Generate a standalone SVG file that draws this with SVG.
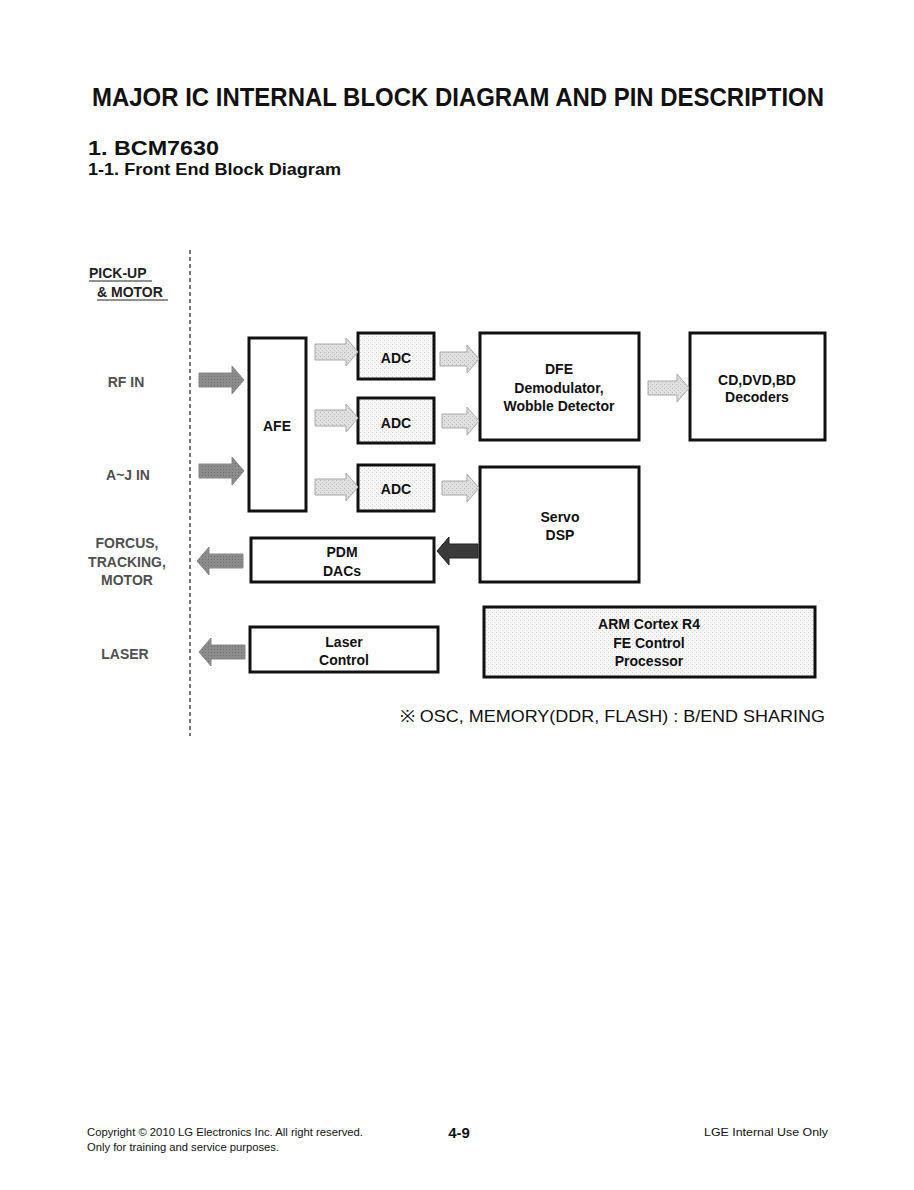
<svg xmlns="http://www.w3.org/2000/svg" width="914" height="1190" viewBox="0 0 914 1190">
<defs>
<pattern id="dots" width="4" height="4" patternUnits="userSpaceOnUse">
<rect width="4" height="4" fill="#f7f7f7"/>
<rect x="0" y="0" width="1" height="1" fill="#d0d0d0"/>
<rect x="2" y="2" width="1" height="1" fill="#dadada"/>
</pattern>
<pattern id="dotsA" width="4" height="4" patternUnits="userSpaceOnUse">
<rect width="4" height="4" fill="#e0e0e0"/>
<rect x="0" y="0" width="1" height="1" fill="#b8b8b8"/>
<rect x="2" y="2" width="1" height="1" fill="#c0c0c0"/>
</pattern>
<pattern id="dotsD" width="3" height="3" patternUnits="userSpaceOnUse">
<rect width="3" height="3" fill="#8c8c8c"/>
<rect x="1" y="1" width="1" height="1" fill="#707070"/>
</pattern>
</defs>
<style>
.t{font-family:"Liberation Sans",Arial,sans-serif;fill:#111}
.b{font-weight:bold}
.blk{fill:#fff;stroke:#111;stroke-width:3}
.lbl{font-family:"Liberation Sans",Arial,sans-serif;font-weight:bold;font-size:14px;fill:#505050;text-anchor:middle}
.bt{font-family:"Liberation Sans",Arial,sans-serif;font-weight:bold;font-size:14px;fill:#111;text-anchor:middle}
.aL{fill:url(#dotsA);stroke:#a8a8a8;stroke-width:1}
.aM{fill:url(#dotsD);stroke:#888;stroke-width:1}
.aD{fill:#3a3a3a;stroke:#222;stroke-width:1}
</style>
<rect width="914" height="1190" fill="#fff"/>

<g id="header">
<text class="t b" x="92" y="106" font-size="26" textLength="732" lengthAdjust="spacingAndGlyphs" fill="#1a1a1a">MAJOR IC INTERNAL BLOCK DIAGRAM AND PIN DESCRIPTION</text>
<text class="t b" x="88" y="155" font-size="20" textLength="131" lengthAdjust="spacingAndGlyphs">1. BCM7630</text>
<text class="t b" x="88" y="175" font-size="17" textLength="253" lengthAdjust="spacingAndGlyphs">1-1. Front End Block Diagram</text>
</g>

<line x1="190" y1="250" x2="190" y2="736" stroke="#222" stroke-width="1.2" stroke-dasharray="4,3"/>

<g id="labels">
<text class="lbl" x="89" y="278" style="text-anchor:start;fill:#222">PICK-UP</text>
<line x1="89" y1="281" x2="152" y2="281" stroke="#222" stroke-width="1.2"/>
<text class="lbl" x="97" y="297" style="text-anchor:start;fill:#222">&amp; MOTOR</text>
<line x1="97" y1="300" x2="168" y2="300" stroke="#222" stroke-width="1.2"/>
<text class="lbl" x="126" y="387">RF IN</text>
<text class="lbl" x="128" y="480">A~J IN</text>
<text class="lbl" x="127" y="548">FORCUS,</text>
<text class="lbl" x="127" y="567">TRACKING,</text>
<text class="lbl" x="127" y="585">MOTOR</text>
<text class="lbl" x="125" y="659">LASER</text>
</g>

<g id="afe"><rect class="blk" x="249" y="338" width="57" height="173"/><text class="bt" x="277" y="431">AFE</text></g>
<g id="adc1"><rect class="blk" x="358" y="333" width="76" height="46" style="fill:url(#dots)"/><text class="bt" x="396" y="363">ADC</text></g>
<g id="adc2"><rect class="blk" x="358" y="398" width="76" height="45" style="fill:url(#dots)"/><text class="bt" x="396" y="428">ADC</text></g>
<g id="adc3"><rect class="blk" x="358" y="465" width="76" height="46" style="fill:url(#dots)"/><text class="bt" x="396" y="494">ADC</text></g>
<g id="dfe"><rect class="blk" x="480" y="333" width="159" height="107"/>
<text class="bt" x="559" y="374">DFE</text><text class="bt" x="559" y="393">Demodulator,</text><text class="bt" x="559" y="411">Wobble Detector</text></g>
<g id="decoders"><rect class="blk" x="690" y="333" width="135" height="107"/>
<text class="bt" x="757" y="385">CD,DVD,BD</text><text class="bt" x="757" y="402">Decoders</text></g>
<g id="servo"><rect class="blk" x="480" y="467" width="159" height="115"/>
<text class="bt" x="560" y="522">Servo</text><text class="bt" x="560" y="540">DSP</text></g>
<g id="pdm"><rect class="blk" x="251" y="538" width="183" height="44"/>
<text class="bt" x="342" y="557">PDM</text><text class="bt" x="342" y="576">DACs</text></g>
<g id="laser"><rect class="blk" x="250" y="627" width="188" height="45"/>
<text class="bt" x="344" y="647">Laser</text><text class="bt" x="344" y="665">Control</text></g>
<g id="arm"><rect class="blk" x="484" y="607" width="331" height="70" style="fill:url(#dots)"/>
<text class="bt" x="649" y="629">ARM Cortex R4</text><text class="bt" x="649" y="648">FE Control</text><text class="bt" x="649" y="666">Processor</text></g>

<g id="connectors">
<path class="aM" d="M199,373 H232 V366 L244,380 L232,394 V387 H199 Z"/>
<path class="aM" d="M199,464 H232 V457 L244,471 L232,485 V478 H199 Z"/>
<path class="aL" d="M315,344 H346 V338 L358,352 L346,366 V360 H315 Z"/>
<path class="aL" d="M315,410 H346 V404 L358,418 L346,432 V426 H315 Z"/>
<path class="aL" d="M315,479 H346 V473 L358,487 L346,501 V495 H315 Z"/>
<path class="aL" d="M440,352 H467 V345 L479,359 L467,373 V366 H440 Z"/>
<path class="aL" d="M442,414 H467 V407 L479,421 L467,435 V428 H442 Z"/>
<path class="aL" d="M442,481 H467 V474 L479,488 L467,502 V495 H442 Z"/>
<path class="aL" d="M648,381 H677 V374 L689,388 L677,402 V395 H648 Z"/>
<path class="aD" d="M478,544 H449 V537 L437,551 L449,565 V558 H478 Z"/>
<path class="aM" d="M243,554 H209 V547 L197,561 L209,575 V568 H243 Z"/>
<path class="aM" d="M245,645 H211 V638 L199,652 L211,666 V659 H245 Z"/>
</g>

<text class="t" x="400" y="722" font-size="17" textLength="425" lengthAdjust="spacingAndGlyphs">※ OSC, MEMORY(DDR, FLASH) : B/END SHARING</text>

<g id="footer">
<text class="t" x="87" y="1136" font-size="11.5" textLength="276" lengthAdjust="spacingAndGlyphs">Copyright © 2010 LG Electronics Inc. All right reserved.</text>
<text class="t" x="87" y="1151" font-size="11.5" textLength="192" lengthAdjust="spacingAndGlyphs">Only for training and service purposes.</text>
<text class="t b" x="459" y="1138" font-size="15" text-anchor="middle">4-9</text>
<text class="t" x="828" y="1136" font-size="11.5" text-anchor="end" textLength="124" lengthAdjust="spacingAndGlyphs">LGE Internal Use Only</text>
</g>
</svg>
